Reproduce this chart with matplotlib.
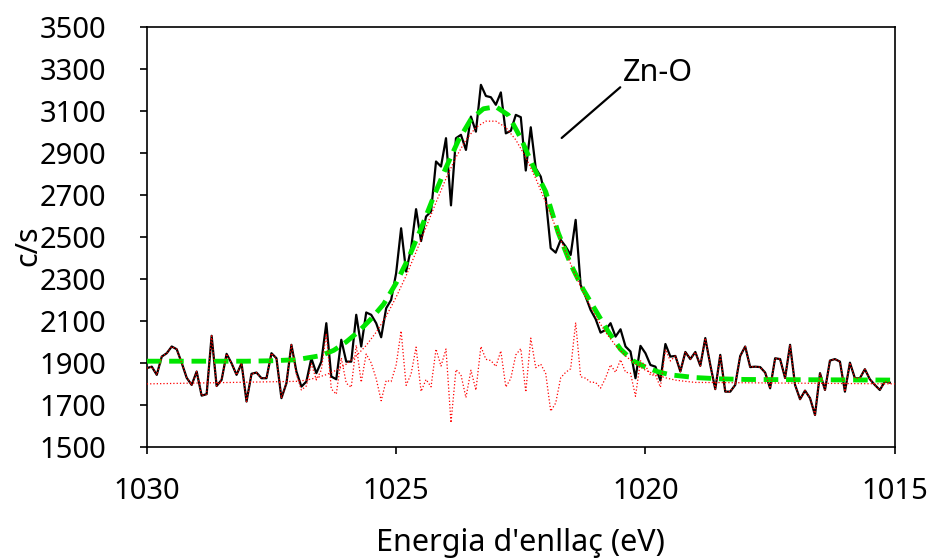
import numpy as np
import matplotlib
matplotlib.use("Agg")
import matplotlib.pyplot as plt

plt.rcParams['font.family'] = ['Noto Sans', 'DejaVu Sans']

# measured spectrum, 0.1 eV steps from 1030.0 eV downwards
energy = np.round(1030.0 - 0.1 * np.arange(150), 1)
counts = [1875, 1882, 1843, 1930, 1946, 1978, 1965, 1900, 1829, 1795,
          1859, 1744, 1751, 2029, 1790, 1819, 1943, 1898, 1843, 1898,
          1716, 1848, 1854, 1827, 1827, 1946, 1922, 1732, 1803, 1986,
          1859, 1787, 1811, 1922, 1851, 1906, 2089, 1835, 1822, 2010,
          1906, 1906, 2129, 1978, 2140, 2129, 2089, 2022, 2160, 2200,
          2327, 2541, 2335, 2446, 2632, 2480, 2597, 2621, 2859, 2835,
          2970, 2650, 2970, 2986, 2914, 3073, 3001, 3224, 3171, 3165,
          3129, 3188, 2993, 3005, 3081, 3070, 2816, 3022, 2827, 2787,
          2684, 2446, 2425, 2486, 2454, 2414, 2581, 2271, 2216, 2152,
          2109, 2044, 2057, 2089, 2025, 2060, 1978, 1954, 1827, 1981,
          1946, 1890, 1882, 1816, 1990, 1930, 1933, 1859, 1952, 1918,
          1952, 1886, 2018, 1890, 1775, 1938, 1763, 1763, 1795, 1933,
          1978, 1880, 1882, 1880, 1854, 1779, 1922, 1918, 1828, 1986,
          1795, 1727, 1768, 1732, 1652, 1851, 1771, 1911, 1918, 1906,
          1763, 1901, 1827, 1827, 1870, 1822, 1795, 1771, 1811, 1806]

# residual in the peak region (1027.0 .. 1019.5 eV); outside it equals the data
resid_mid = [1846, 1771, 1790, 1896, 1819, 1866, 2041, 1776, 1751, 1924,
             1803, 1784, 1984, 1808, 1942, 1900, 1825, 1720, 1816, 1811,
             1890, 2052, 1793, 1847, 1975, 1764, 1821, 1786, 1966, 1885,
             1966, 1615, 1868, 1843, 1735, 1865, 1770, 1978, 1917, 1911,
             1883, 1957, 1785, 1826, 1938, 1968, 1761, 2018, 1877, 1894,
             1849, 1670, 1709, 1829, 1855, 1872, 2092, 1834, 1827, 1808,
             1807, 1780, 1828, 1891, 1855, 1915, 1856, 1851, 1741, 1910,
             1887, 1842, 1842, 1784, 1964, 1909]
residual = counts[:30] + resid_mid + counts[106:]

# fitted envelope (peak + background)
env_ev = [1030.0, 1028.0, 1027.5, 1027.0, 1026.5, 1026.25, 1026.0, 1025.75,
          1025.5, 1025.25, 1025.0, 1024.75, 1024.5, 1024.25, 1024.0, 1023.75,
          1023.5, 1023.25, 1023.0, 1022.75, 1022.5, 1022.25, 1022.0, 1021.75,
          1021.5, 1021.25, 1021.0, 1020.75, 1020.5, 1020.25, 1020.0, 1019.75,
          1019.5, 1019.0, 1018.5, 1018.0, 1015.0]
env_cps = [1908, 1908, 1910, 1915, 1935, 1960, 2000, 2050,
           2110, 2180, 2280, 2400, 2540, 2690, 2830, 2960,
           3060, 3110, 3120, 3080, 2970, 2835, 2715, 2520,
           2370, 2250, 2150, 2050, 1965, 1910, 1880, 1858,
           1843, 1830, 1824, 1821, 1818]

# Zn-O component
zno_ev = [1030.0, 1027.0, 1026.8, 1026.6, 1026.4, 1026.2, 1026.0, 1025.8,
          1025.6, 1025.4, 1025.2, 1025.0, 1024.8, 1024.6, 1024.4, 1024.2,
          1024.0, 1023.8, 1023.6, 1023.4, 1023.2, 1023.0, 1022.8, 1022.6,
          1022.4, 1022.2, 1022.0, 1021.8, 1021.6, 1021.4, 1021.2, 1021.0,
          1020.8, 1020.6, 1020.4, 1020.2, 1020.0, 1019.8, 1019.6, 1019.4,
          1019.2, 1019.0, 1015.0]
zno_cps = [1800, 1812, 1818, 1829, 1844, 1865, 1894, 1933,
           1983, 2046, 2122, 2213, 2315, 2428, 2546, 2664,
           2778, 2879, 2962, 3021, 3051, 3051, 3021, 2962,
           2879, 2778, 2664, 2546, 2428, 2315, 2213, 2122,
           2046, 1983, 1933, 1894, 1865, 1844, 1829, 1818,
           1812, 1807, 1800]

fig = plt.figure(figsize=(9.35, 5.6), dpi=100)
ax = fig.add_axes([0.157, 0.202, 0.8, 0.75])

ax.plot(energy, counts, color='black', lw=1.6, zorder=2)
ax.plot(env_ev, env_cps, color='#00e600', lw=3.5, dashes=(3, 1.6), zorder=3)
ax.plot(zno_ev, zno_cps, color='red', lw=0.9, ls=':', zorder=4)
ax.plot(energy, residual, color='red', lw=0.9, ls=':', zorder=4)

ax.annotate('Zn-O', xy=(1021.68, 2971), xytext=(1020.45, 3281),
            fontsize=22, ha='left', va='center',
            arrowprops=dict(arrowstyle='-', color='black', lw=1.6,
                            shrinkA=0, shrinkB=0, relpos=(0, 0.1)))

ax.set_xlim(1030, 1015)
ax.set_ylim(1500, 3500)
ax.set_xticks([1030, 1025, 1020, 1015])
ax.set_yticks(range(1500, 3501, 200))
ax.tick_params(axis='both', direction='out', length=5, width=1.2, labelsize=21)
ax.tick_params(axis='y', pad=24)
ax.tick_params(axis='x', pad=17)
for s in ax.spines.values():
    s.set_linewidth(1.2)

ax.set_xlabel("Energia d'enllaç (eV)", fontsize=22, va='center')
ax.set_ylabel("c/s", fontsize=22, va='center')
ax.xaxis.set_label_coords(0.5, -0.228)
ax.yaxis.set_label_coords(-0.158, 0.48)

fig.savefig('out.png', dpi=100)
